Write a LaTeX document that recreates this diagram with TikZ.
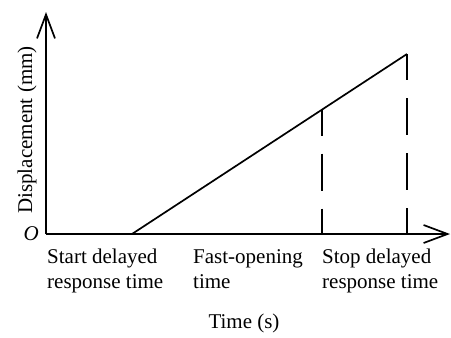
\documentclass[tikz,border=0pt]{standalone}
\usepackage{fontspec}
\setmainfont{Liberation Serif}
\usetikzlibrary{arrows.meta,calc}
\begin{document}
\begin{tikzpicture}[x=1pt,y=-1pt,
  axis/.style={line width=1.7pt,-{Straight Barb[length=24pt,width=18pt,line width=1.7pt]}},
  curve/.style={line width=1.7pt},
  guide/.style={line width=1.7pt,dash pattern=on 37pt off 18pt,dash phase=11pt},
  lbl/.style={font=\fontsize{21}{25}\selectfont,inner sep=0pt,align=left,anchor=base west}]
\useasboundingbox (0,0) rectangle (451,338);
\coordinate (o) at (46,234);
\coordinate (ytop) at (46,12);
\coordinate (xend) at (450,234);
\coordinate (s) at (132,234);
\coordinate (e) at (407,54);
\coordinate (m) at ($(s)!0.6909!(e)$);
\coordinate (mb) at (m |- o);
\coordinate (eb) at (e |- o);
\draw[axis] (o) -- (ytop);
\draw[axis] (o) -- (xend);
\draw[curve] (s) -- (e);
\draw[guide] (m) -- (mb);
\draw[guide] (e) -- (eb);
\node[lbl,anchor=base east] (O) at (39,240) {\textit{O}};
\node[lbl,rotate=90,anchor=base] (ylab) at (32,130) {Displacement (mm)};
\node[lbl] (l1) at (47,288) {Start delayed\\response time};
\node[lbl] (l2) at (193,288) {Fast-opening\\time};
\node[lbl] (l3) at (322,288) {Stop delayed\\response time};
\node[lbl,anchor=base] (xlab) at (244,328) {Time (s)};
\end{tikzpicture}
\end{document}
